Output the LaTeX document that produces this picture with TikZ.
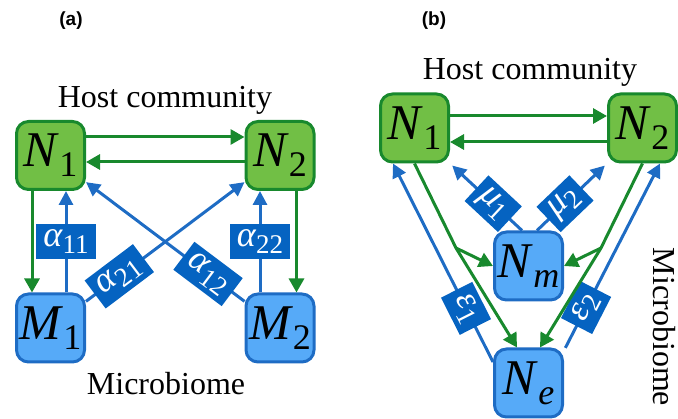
\documentclass[tikz,border=0pt]{standalone}
\usepackage{fontspec}
\setmainfont{Liberation Serif}
\newfontfamily\panelfont{Liberation Sans}
\usetikzlibrary{arrows.meta}
\definecolor{hostfill}{RGB}{113,191,69}
\definecolor{hostline}{RGB}{24,137,45}
\definecolor{microfill}{RGB}{86,170,248}
\definecolor{microline}{RGB}{30,108,196}
\definecolor{labfill}{RGB}{5,99,193}
\newcommand{\nsym}[2]{\textit{#1}\raisebox{-0.2em}{\fontsize{36}{36}\selectfont #2}}
\newcommand{\lsym}[2]{\textit{#1}\raisebox{-0.2em}{\fontsize{27}{27}\selectfont #2}}

\begin{document}
\begin{tikzpicture}[x=1pt, y=-1pt,
    host/.style={draw=hostline, fill=hostfill, line width=3pt, rounded corners=12pt,
      minimum size=68pt, inner sep=0pt, font=\fontsize{50}{50}\selectfont},
    micro/.style={host, draw=microline, fill=microfill},
    garrow/.style={draw=hostline, line width=3pt, -{Triangle[length=14pt,width=15pt]}},
    barrow/.style={draw=microline, line width=3pt, -{Triangle[length=14pt,width=14pt]}},
    coef/.style={fill=labfill, text=white, font=\fontsize{36}{36}\selectfont,
      minimum height=35pt, inner xsep=7pt, inner ysep=0pt},
    caption/.style={font=\fontsize{32}{32}\selectfont, anchor=base},
    panel/.style={font=\panelfont\bfseries\fontsize{19}{19}\selectfont}]
    \useasboundingbox (0,0) rectangle (678,419);

    % (a) two hosts, two microbes
    \node[panel] (pa) at (71,21) {(a)};
    \node[caption] (hosta) at (165,108) {Host community};
    \node[host] (N1) at (50.5,155.5) {\nsym{N}{1}};
    \node[host] (N2) at (280,155.5) {\nsym{N}{2}};
    \node[micro] (M1) at (50.5,328) {\nsym{M}{1}};
    \node[micro] (M2) at (280,328) {\nsym{M}{2}};
    \node[caption] (microa) at (166,395) {Microbiome};

    \draw[garrow] ([yshift=18.5pt]N1.east) -- ([yshift=18.5pt]N2.west);
    \draw[garrow] ([yshift=-6.5pt]N2.west) -- ([yshift=-6.5pt]N1.east);
    \draw[garrow] ([xshift=-18.5pt]N1.south) -- ([xshift=-18.5pt]M1.north);
    \draw[garrow] ([xshift=16.5pt]N2.south) -- ([xshift=16.5pt]M2.north);
    \draw[barrow] ([xshift=15.5pt]M1.north) -- node[coef] {\lsym{α}{11}} ([xshift=15.5pt]N1.south);
    \draw[barrow] ([xshift=-20pt]M2.north) -- node[coef] {\lsym{α}{22}} ([xshift=-20pt]N2.south);
    \draw[barrow] (M1) -- node[coef, sloped, pos=0.21] {\lsym{α}{21}} (N2);
    \draw[barrow] (M2) -- node[coef, sloped, pos=0.23] {\lsym{α}{12}} (N1);

    % (b) hosts with shared microbe pools
    \node[panel] (pb) at (434,21) {(b)};
    \node[caption] (hostb) at (530,80) {Host community};
    \node[host] (N1b) at (414.5,128) {\nsym{N}{1}};
    \node[host] (N2b) at (642.5,128) {\nsym{N}{2}};
    \node[micro] (Nm) at (528.5,266) {\nsym{N}{\textit{m}}};
    \node[micro] (Ne) at (528.5,383) {\nsym{N}{\textit{e}}};
    \node[caption, rotate=-90] (microb) at (653,327) {Microbiome};
    \coordinate (K1) at (456,248);
    \coordinate (K2) at (601,248);

    \draw[garrow] ([yshift=12pt]N1b.east) -- ([yshift=12pt]N2b.west);
    \draw[garrow] ([yshift=-14pt]N2b.west) -- ([yshift=-14pt]N1b.east);
    \draw[barrow, shorten >=3pt] ([xshift=-6.5pt]Nm.north) -- node[coef, sloped, pos=0.4] {\lsym{μ}{1}} (N1b.south east);
    \draw[barrow, shorten >=3pt] ([xshift=8.5pt]Nm.north) -- node[coef, sloped, pos=0.4] {\lsym{μ}{2}} (N2b.south west);
    \draw[barrow] ([yshift=21pt]Ne.west) -- node[coef, sloped, pos=0.27] {\lsym{ε}{1}} ([xshift=-21.5pt]N1b.south);
    \draw[barrow, shorten <=3pt] ([yshift=-3pt]Ne.north east) -- node[coef, sloped, pos=0.23] {\lsym{ε}{2}} ([xshift=17.5pt]N2b.south);
    \draw[garrow] (N1b.south) -- (K1) -- ([xshift=-11.5pt]Ne.north);
    \draw[garrow] (K1) -- (Nm.west);
    \draw[garrow] (N2b.south) -- (K2) -- ([xshift=11.5pt]Ne.north);
    \draw[garrow] (K2) -- (Nm.east);
\end{tikzpicture}
\end{document}
